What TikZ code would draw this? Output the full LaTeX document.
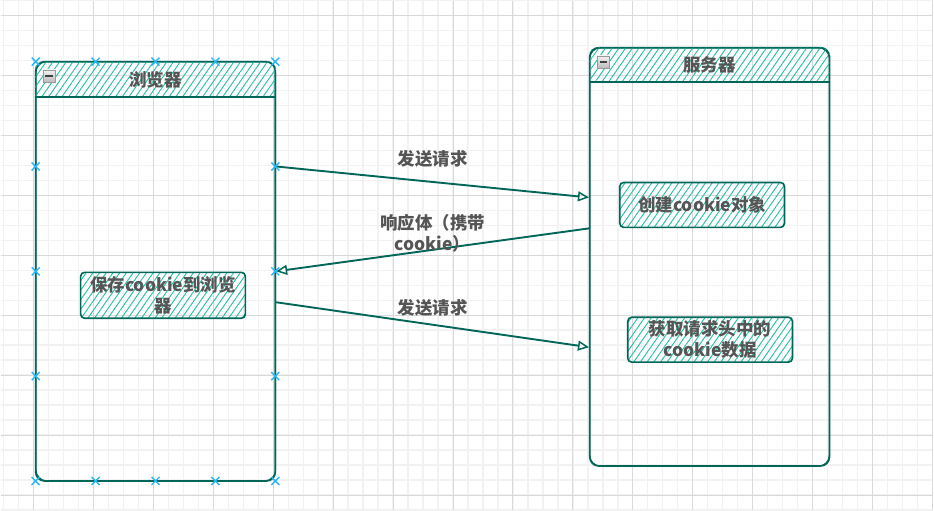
\documentclass[tikz,border=0pt]{standalone}
\usepackage{fontspec}
\setmainfont{Noto Sans CJK SC}
\usetikzlibrary{positioning, arrows.meta, patterns.meta}
\definecolor{lanegreen}{HTML}{006658}
\definecolor{hatchgreen}{HTML}{21C0A5}
\definecolor{textgray}{HTML}{555555}
\definecolor{gridminor}{HTML}{F2F2F2}
\definecolor{gridmajor}{HTML}{D9D9D9}
\definecolor{selblue}{HTML}{29B6F2}

\tikzset{
    lane/.style={draw=lanegreen, line width=1.7pt, rounded corners=9pt,
                 minimum width=240pt, inner sep=0pt},
    hatch/.style={pattern={Lines[angle=55, distance=5.5pt, line width=0.9pt]},
                  pattern color=hatchgreen},
    lanetitle/.style={font=\bfseries\fontsize{17.5}{20}\selectfont, text=textgray},
    task/.style={draw=lanegreen, line width=1.6pt, rounded corners=4pt, hatch,
                 minimum width=165pt, minimum height=45pt, align=center, inner sep=1pt,
                 font=\bfseries\fontsize{17.5}{21}\selectfont, text=textgray},
    toggle/.style={draw=gray!80, minimum size=12.5pt, inner sep=0pt,
                   top color=gray!10, bottom color=gray!55,
                   path picture={\draw[line width=1.5pt, black!75]
                       ([xshift=2.5pt]path picture bounding box.west) --
                       ([xshift=-2.5pt]path picture bounding box.east);}},
    msg/.style={draw=lanegreen, line width=1.9pt,
                -{Triangle[open, length=11pt, width=10pt, line width=1.5pt]}},
    msglabel/.style={font=\bfseries\fontsize{17.5}{21}\selectfont, text=textgray,
                     align=center},
    selmark/.style={draw=selblue, line width=1.4pt}
}

\begin{document}
\begin{tikzpicture}[x=1pt, y=-1pt]
    % background grid
    \fill[white] (0,0) rectangle (934,510);
    \foreach \x in {3,18,...,933} \draw[gridminor, line width=1.5pt] (\x,0) -- (\x,510);
    \foreach \y in {0,15,...,510} \draw[gridminor, line width=1.5pt] (0,\y) -- (934,\y);
    \foreach \x in {33,93,...,933} \draw[gridmajor, line width=0.9pt] (\x,0) -- (\x,510);
    \foreach \y in {15,75,...,510} \draw[gridmajor, line width=0.9pt] (0,\y) -- (934,\y);
    \useasboundingbox (0,0) rectangle (934,510);

    % lanes
    \node[lane, minimum height=420pt] (browser) at (155,271) {};
    \node[lane, minimum height=419pt] (server) at (710,256.5) {};

    % hatched headers
    \begin{scope}
        \clip[rounded corners=9pt] (browser.north west) rectangle (browser.south east);
        \fill[hatch] (browser.north west) rectangle ([yshift=-36pt]browser.north east);
    \end{scope}
    \begin{scope}
        \clip[rounded corners=9pt] (server.north west) rectangle (server.south east);
        \fill[hatch] (server.north west) rectangle ([yshift=-35pt]server.north east);
    \end{scope}
    \draw[lanegreen, line width=1.7pt] ([yshift=-36pt]browser.north west) -- ([yshift=-36pt]browser.north east);
    \draw[lanegreen, line width=1.7pt] ([yshift=-35pt]server.north west) -- ([yshift=-35pt]server.north east);

    % second sketch stroke
    \draw[lanegreen, line width=0.9pt, rounded corners=11pt]
        ([shift={(1.2pt,-0.8pt)}]browser.north west) rectangle ([shift={(-0.6pt,1pt)}]browser.south east);
    \draw[lanegreen, line width=0.9pt, rounded corners=11pt]
        ([shift={(0.8pt,-1pt)}]server.north west) rectangle ([shift={(-1pt,0.8pt)}]server.south east);

    \node[lanetitle] (browserTitle) at (155,79) {浏览器};
    \node[lanetitle] (serverTitle) at (710,64.5) {服务器};
    \node[toggle] (browserToggle) at (48.5,75.5) {};
    \node[toggle] (serverToggle) at (603.5,61.5) {};

    % tasks
    \node[task, minimum height=46pt] (store) at (162.5,295) {保存cookie到浏览\\器};
    \node[task] (create) at (702.5,204.5) {创建cookie对象};
    \node[task] (fetch) at (710.5,339.5) {获取请求头中的\\cookie数据};

    % messages
    \draw[msg] ([yshift=105pt]browser.east) -- ([yshift=59.5pt]server.west)
        node[msglabel, midway, yshift=23pt] (request1) {发送请求};
    \draw[msg] ([yshift=28.5pt]server.west) -- (browser.east)
        node[msglabel, midway, yshift=17pt] (response) {响应体（携带\\cookie）};
    \draw[msg] ([yshift=-31pt]browser.east) -- ([yshift=-90.5pt]server.west)
        node[msglabel, midway, yshift=17pt] (request2) {发送请求};

    % selection handles
    \foreach \x in {35,95,155,215,275}
        \foreach \y in {61,481}
            \draw[selmark] (\x-4,\y-4) -- (\x+4,\y+4) (\x-4,\y+4) -- (\x+4,\y-4);
    \foreach \x in {35,275}
        \foreach \y in {166,271,376}
            \draw[selmark] (\x-4,\y-4) -- (\x+4,\y+4) (\x-4,\y+4) -- (\x+4,\y-4);
\end{tikzpicture}
\end{document}
